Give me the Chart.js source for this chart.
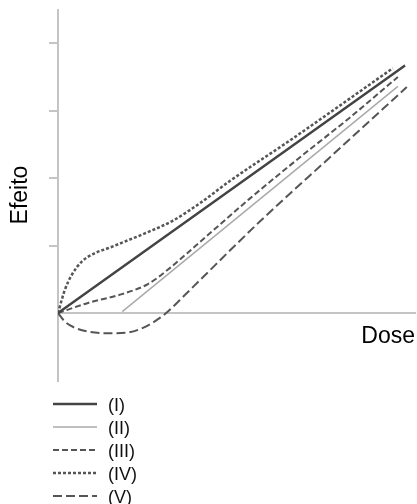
<!DOCTYPE html>
<html lang="pt">
<head>
<meta charset="UTF-8">
<title>Efeito x Dose</title>
<script src="https://cdn.jsdelivr.net/npm/chart.js"></script>
<style>
  body { margin: 0; background: #fff; }
  canvas { display: block; }
</style>
</head>
<body>
<canvas id="chart" width="417" height="504"></canvas>
<script>
// curve labels
const labels = ['(I)', '(II)', '(III)', '(IV)', '(V)'];

// dose (x) and efeito (y), one pair of arrays per curve
const doseI = [0, 9.72];
const efeitoI = [0, 3.67];

const doseII = [1.8, 9.52];
const efeitoII = [0.02, 3.36];

const doseIII = [0, 0.84, 1.79, 2.52, 3.14, 3.84, 5.38, 6.78, 8.18, 9.52];
const efeitoIII = [0, 0.15, 0.28, 0.43, 0.67, 0.99, 1.7, 2.31, 2.9, 3.5];

const doseIV = [0, 0.19, 0.38, 0.66, 1.04, 1.4, 1.78, 2.52, 3.22, 3.98, 4.82, 6.5, 9.38];
const efeitoIV = [0, 0.34, 0.56, 0.76, 0.89, 0.96, 1.04, 1.2, 1.37, 1.63, 1.96, 2.56, 3.63];

const doseV = [0, 0.2, 0.48, 0.9, 1.46, 1.93, 2.38, 2.72, 3.03, 3.56, 3.98, 5.66, 7.62, 9.77];
const efeitoV = [0, -0.13, -0.22, -0.28, -0.3, -0.29, -0.22, -0.12, 0, 0.27, 0.49, 1.36, 2.31, 3.35];

// y tick marks (no labels)
const yTicks = [1, 2, 3, 4];

const axisGray = '#c4c4c4';

function pts(xs, ys) {
  return xs.map((x, i) => ({ x: x, y: ys[i] }));
}

Chart.defaults.font.family = '"Liberation Sans", Arial, sans-serif';

// legend stacked one item per row under the plot
const stackedLegend = {
  id: 'stackedLegend',
  afterDraw(chart) {
    const ctx = chart.ctx;
    ctx.save();
    chart.data.datasets.forEach((ds, i) => {
      const y = 404 + i * 23;
      ctx.strokeStyle = ds.borderColor;
      ctx.lineWidth = ds.borderWidth;
      ctx.setLineDash(ds.borderDash || []);
      ctx.beginPath();
      ctx.moveTo(53, y);
      ctx.lineTo(97, y);
      ctx.stroke();
      ctx.setLineDash([]);
      ctx.fillStyle = '#111';
      ctx.font = '18px "Liberation Sans", Arial, sans-serif';
      ctx.textBaseline = 'middle';
      ctx.fillText(ds.label, 108, y + 2);
    });
    ctx.restore();
  }
};

new Chart(document.getElementById('chart'), {
  type: 'line',
  data: {
    datasets: [
      { label: labels[0], data: pts(doseI, efeitoI), borderColor: '#444', borderWidth: 2.5 },
      { label: labels[1], data: pts(doseII, efeitoII), borderColor: '#aaa', borderWidth: 1.5 },
      { label: labels[2], data: pts(doseIII, efeitoIII), borderColor: '#555', borderWidth: 2, borderDash: [6, 3] },
      { label: labels[3], data: pts(doseIV, efeitoIV), borderColor: '#555', borderWidth: 2.5, borderDash: [3, 2] },
      { label: labels[4], data: pts(doseV, efeitoV), borderColor: '#555', borderWidth: 2, borderDash: [9, 4] }
    ]
  },
  options: {
    responsive: false,
    animation: false,
    layout: { padding: { top: 9.5, right: 2, bottom: 123.5, left: 0 } },
    plugins: { legend: { display: false }, tooltip: { enabled: false } },
    elements: {
      point: { radius: 0 },
      line: { cubicInterpolationMode: 'monotone', fill: false }
    },
    scales: {
      x: {
        type: 'linear',
        position: { y: 0 },
        min: 0,
        max: 10,
        ticks: { display: false },
        grid: { display: false, drawTicks: false },
        border: { display: true, color: axisGray, width: 2 },
        title: { display: true, text: 'Dose', align: 'end', color: '#000', font: { size: 23 }, padding: { top: 10, bottom: 0 } }
      },
      y: {
        type: 'linear',
        min: -1,
        max: 4.5,
        afterBuildTicks: s => { s.ticks = yTicks.map(v => ({ value: v })); },
        ticks: { display: false },
        grid: { drawOnChartArea: false, drawTicks: true, tickLength: 9, color: axisGray, lineWidth: 2 },
        border: { color: axisGray, width: 2 },
        title: { display: true, text: 'Efeito', color: '#000', font: { size: 23 }, padding: { top: 7, bottom: 14.4 } }
      }
    }
  },
  plugins: [stackedLegend]
});
</script>
</body>
</html>
